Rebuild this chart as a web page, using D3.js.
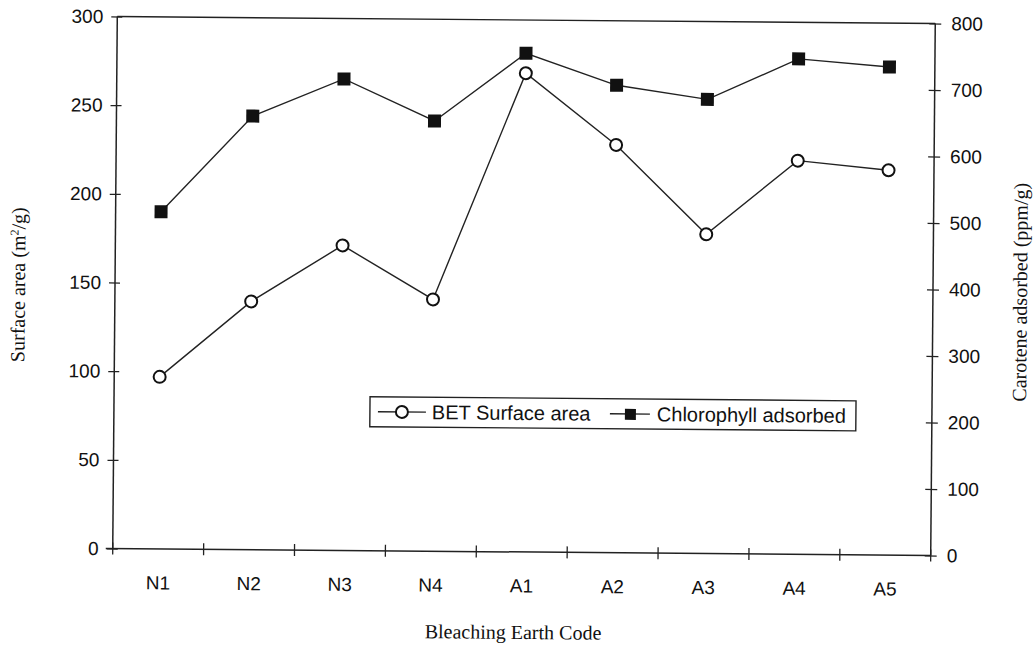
<!DOCTYPE html>
<html>
<head>
<meta charset="utf-8">
<script src="https://cdn.jsdelivr.net/npm/d3@7"></script>
<style>
  html, body { margin: 0; padding: 0; background: #fff; }
  svg { display: block; }
</style>
</head>
<body>
<svg id="chart" width="1035" height="649"></svg>
<script>
// ---- data ----
const categories = ["N1", "N2", "N3", "N4", "A1", "A2", "A3", "A4", "A5"];
const betSurfaceArea = [97, 140, 172, 142, 270, 230, 180, 222, 217];          // m2/g, left axis
const chlorophyllAdsorbed = [507, 652, 709, 647, 750, 703, 683, 745, 734];     // right axis
const leftTicks = [0, 50, 100, 150, 200, 250, 300];
const rightTicks = [0, 100, 200, 300, 400, 500, 600, 700, 800];
const seriesNames = ["BET Surface area", "Chlorophyll adsorbed"];

// ---- layout ----
const W = 1035, H = 649;
const L = 115, R = 933, T = 20, B = 552;
const sans = "'Liberation Sans', Arial, Helvetica, sans-serif";
const serif = "'Liberation Serif', 'Times New Roman', Times, serif";

const svg = d3.select("#chart");
svg.append("rect").attr("width", W).attr("height", H).attr("fill", "#fff");
const root = svg.append("g").attr("transform", "rotate(0.49, 524, 286)");

const x = d3.scaleBand().domain(categories).range([L, R]).padding(0);
const yL = d3.scaleLinear().domain([0, 300]).range([B, T]);
const yR = d3.scaleLinear().domain([0, 800]).range([B, T]);

// frame top line
root.append("line").attr("x1", L).attr("x2", R).attr("y1", T).attr("y2", T)
  .attr("stroke", "#222").attr("stroke-width", 1.4);

// left axis
const gL = root.append("g").attr("transform", `translate(${L},0)`)
  .call(d3.axisLeft(yL).tickValues(leftTicks).tickSize(6).tickPadding(8));
gL.select(".domain").attr("d", `M0,${B}V${T}`).attr("stroke", "#222").attr("stroke-width", 1.5);
gL.selectAll(".tick line").attr("x1", 5).attr("stroke", "#222").attr("stroke-width", 1.3);
gL.selectAll(".tick text").attr("font-family", sans).attr("font-size", 19).attr("fill", "#111");

// right axis
const gR = root.append("g").attr("transform", `translate(${R},0)`)
  .call(d3.axisRight(yR).tickValues(rightTicks).tickSize(6).tickPadding(10));
gR.select(".domain").attr("d", `M0,${B}V${T}`).attr("stroke", "#222").attr("stroke-width", 1.5);
gR.selectAll(".tick line").attr("x1", -6).attr("stroke", "#222").attr("stroke-width", 1.3);
gR.selectAll(".tick text").attr("font-family", sans).attr("font-size", 19).attr("fill", "#111");

// bottom axis (labels at band centres)
const gB = root.append("g").attr("transform", `translate(0,${B})`)
  .call(d3.axisBottom(x).tickSize(0).tickPadding(27));
gB.select(".domain").attr("d", `M${L - 7},0H${R}`).attr("stroke", "#222").attr("stroke-width", 1.5);
gB.selectAll(".tick text").attr("font-family", sans).attr("font-size", 19).attr("fill", "#111");
// tick marks at band boundaries
const bounds = categories.map(c => x(c)).concat([x.range()[1]]);
gB.selectAll("line.bt").data(bounds).enter().append("line").attr("class", "bt")
  .attr("x1", d => d).attr("x2", d => d).attr("y1", -6).attr("y2", 6)
  .attr("stroke", "#222").attr("stroke-width", 1.3);

// axis titles
root.append("text").attr("x", 516).attr("y", 639).attr("text-anchor", "middle")
  .attr("font-family", serif).attr("font-size", 20).attr("fill", "#111")
  .text("Bleaching Earth Code");

const lt = root.append("text").attr("transform", "translate(25,289) rotate(-90)")
  .attr("text-anchor", "middle").attr("font-family", serif).attr("font-size", 20).attr("fill", "#111");
lt.append("tspan").text("Surface area (m");
lt.append("tspan").attr("dy", -7).attr("font-size", 12).text("2");
lt.append("tspan").attr("dy", 7).text("/g)");

root.append("text").attr("transform", "translate(1027,288) rotate(-90)")
  .attr("text-anchor", "middle").attr("font-family", serif).attr("font-size", 20).attr("fill", "#111")
  .text("Carotene adsorbed (ppm/g)");

// series
const cx = d => x(d) + x.bandwidth() / 2;
const betData = categories.map((c, i) => ({ c, v: betSurfaceArea[i] }));
const chlData = categories.map((c, i) => ({ c, v: chlorophyllAdsorbed[i] }));

root.append("path").datum(chlData)
  .attr("d", d3.line().x(d => cx(d.c)).y(d => yR(d.v)))
  .attr("fill", "none").attr("stroke", "#222").attr("stroke-width", 1.4);
root.append("path").datum(betData)
  .attr("d", d3.line().x(d => cx(d.c)).y(d => yL(d.v)))
  .attr("fill", "none").attr("stroke", "#222").attr("stroke-width", 1.4);

const sq = 13;
root.selectAll("rect.chl").data(chlData).enter().append("rect").attr("class", "chl")
  .attr("x", d => cx(d.c) - sq / 2).attr("y", d => yR(d.v) - sq / 2)
  .attr("width", sq).attr("height", sq).attr("fill", "#111");
root.selectAll("circle.bet").data(betData).enter().append("circle").attr("class", "bet")
  .attr("cx", d => cx(d.c)).attr("cy", d => yL(d.v)).attr("r", 6)
  .attr("fill", "#fff").attr("stroke", "#111").attr("stroke-width", 2);

// legend
const lg = root.append("g").attr("transform", "translate(371,398)");
lg.append("rect").attr("x", 0).attr("y", 0).attr("width", 486).attr("height", 30)
  .attr("fill", "#fff").attr("stroke", "#222").attr("stroke-width", 1.4);
const items = [
  { name: seriesNames[0], x0: 8, len: 48, type: "circle", tx: 54 },
  { name: seriesNames[1], x0: 240, len: 40, type: "square", tx: 47 }
];
items.forEach(it => {
  const g = lg.append("g").attr("transform", `translate(${it.x0},15)`);
  g.append("line").attr("x1", 0).attr("x2", it.len).attr("y1", 0).attr("y2", 0)
    .attr("stroke", "#222").attr("stroke-width", 1.4);
  if (it.type === "circle") {
    g.append("circle").attr("cx", 24).attr("cy", 0).attr("r", 6)
      .attr("fill", "#fff").attr("stroke", "#111").attr("stroke-width", 2);
  } else {
    g.append("rect").attr("x", 15).attr("y", -5).attr("width", 11).attr("height", 11).attr("fill", "#111");
  }
  g.append("text").attr("x", it.tx).attr("y", 7)
    .attr("font-family", sans).attr("font-size", 20).attr("fill", "#111").text(it.name);
});
</script>
</body>
</html>
